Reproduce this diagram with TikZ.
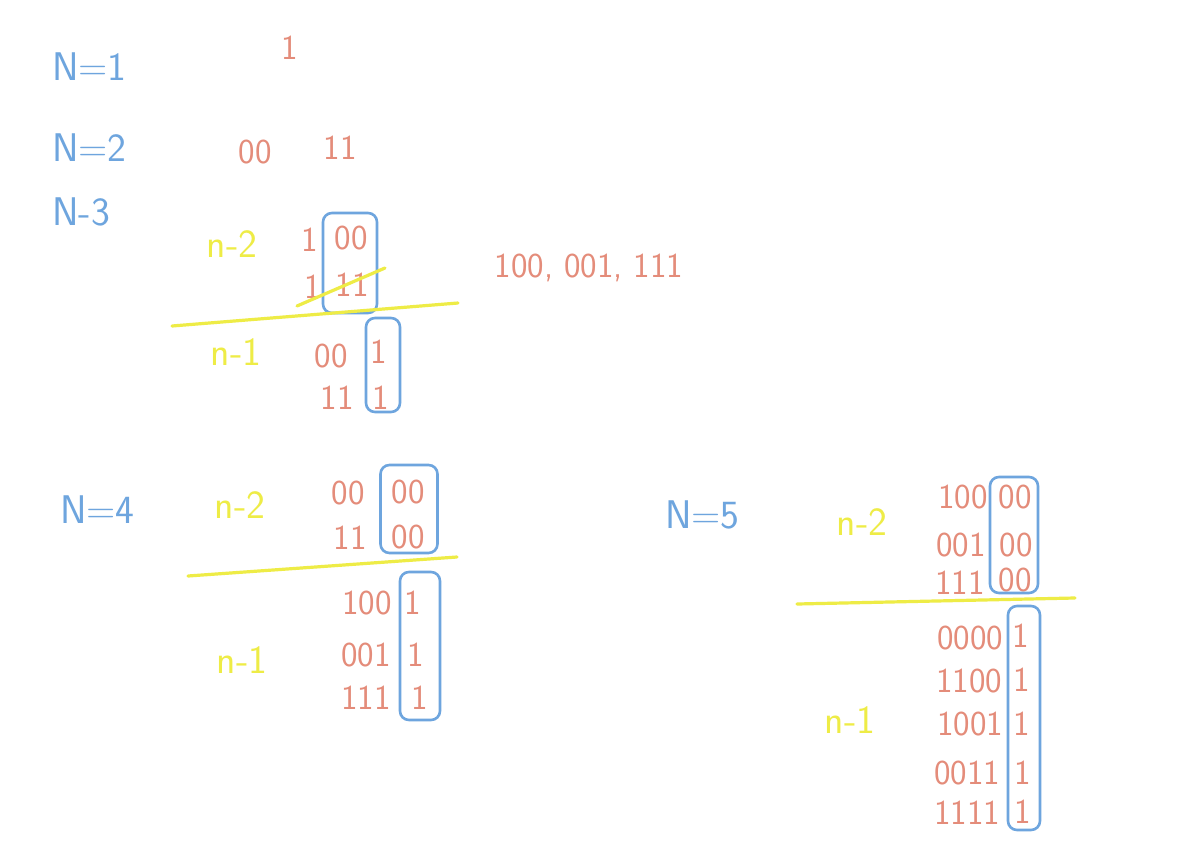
\documentclass[tikz,border=0pt]{standalone}
\usepackage{fontspec}
\definecolor{cblue}{RGB}{110,165,222}
\definecolor{cred}{RGB}{228,140,122}
\definecolor{cyel}{RGB}{238,236,70}
\begin{document}
\begin{tikzpicture}[x=1pt,y=-1pt,
 lab/.style={text=cblue,font=\sffamily\fontsize{40}{40}\selectfont,inner sep=0,anchor=west},
 dig/.style={text=cred,font=\sffamily\fontsize{35}{35}\selectfont,inner sep=0},
 nlab/.style={text=cyel,font=\sffamily\fontsize{40}{40}\selectfont,inner sep=0},
 bbox/.style={draw=cblue,line width=2.6pt,rounded corners=9pt,inner sep=0},
 yline/.style={draw=cyel,line width=3.2pt,line cap=round}]
\useasboundingbox[fill=white] (0,0) rectangle (1200,841);

% N=1, N=2, N-3 labels
\node[lab] (n1) at (52,67) {N=1};
\node[dig] (d1) at (290,48) {1};
\node[lab] (n2) at (52,148) {N=2};
\node[dig] (d2a) at (255,152) {00};
\node[dig] (d2b) at (340,148) {11};
\node[lab] (n3) at (52,212) {N-3};

% N=3 block
\node[nlab] (y3a) at (232,244) {n-2};
\node[dig] (r3a1) at (310,240) {1};
\node[dig] (r3a2) at (351,238) {00};
\node[dig] (r3b1) at (313,287) {1};
\node[dig] (r3b2) at (352,285) {11};
\node[bbox,minimum width=54pt,minimum height=100pt] (b3a) at (350,263) {};
\coordinate (s1) at (297,306);
\coordinate (s2) at (385,268);
\draw[yline] (s1) -- (s2);
\coordinate (l3a) at (172,326);
\coordinate (l3b) at (458,303);
\draw[yline] (l3a) -- (l3b);
\node[nlab] (y3b) at (236,352) {n-1};
\node[dig] (r3c1) at (331,356) {00};
\node[dig] (r3c2) at (379,352) {1};
\node[dig] (r3d1) at (337,398) {11};
\node[dig] (r3d2) at (381,398) {1};
\node[bbox,minimum width=34pt,minimum height=94pt] (b3b) at (383,365) {};
\node[dig] (res3) at (589,268) {100, 001, 111};

% N=4 block
\node[lab] (n4) at (60,510) {N=4};
\node[nlab] (y4a) at (240,505) {n-2};
\node[dig] (r4a1) at (348,493) {00};
\node[dig] (r4a2) at (408,492) {00};
\node[dig] (r4b1) at (350,538) {11};
\node[dig] (r4b2) at (408,537) {00};
\node[bbox,minimum width=57pt,minimum height=88pt] (b4a) at (409,509) {};
\coordinate (l4a) at (188,576);
\coordinate (l4b) at (457,557);
\draw[yline] (l4a) -- (l4b);
\node[dig] (r4c1) at (367,603) {100};
\node[dig] (r4c2) at (413,603) {1};
\node[nlab] (y4b) at (242,660) {n-1};
\node[dig] (r4d1) at (366,655) {001};
\node[dig] (r4d2) at (416,655) {1};
\node[dig] (r4e1) at (366,698) {111};
\node[dig] (r4e2) at (420,698) {1};
\node[bbox,minimum width=40pt,minimum height=148pt] (b4b) at (420,646) {};

% N=5 block
\node[lab] (n5) at (665,515) {N=5};
\node[nlab] (y5a) at (862,522) {n-2};
\node[dig] (r5a1) at (963,497) {100};
\node[dig] (r5a2) at (1015,497) {00};
\node[dig] (r5b1) at (961,545) {001};
\node[dig] (r5b2) at (1016,545) {00};
\node[dig] (r5c1) at (960,583) {111};
\node[dig] (r5c2) at (1015,580) {00};
\node[bbox,minimum width=48pt,minimum height=116pt] (b5a) at (1014,535) {};
\coordinate (l5a) at (797,604);
\coordinate (l5b) at (1075,598);
\draw[yline] (l5a) -- (l5b);
\node[dig] (r5d1) at (970,638) {0000};
\node[dig] (r5d2) at (1021,636) {1};
\node[dig] (r5e1) at (969,681) {1100};
\node[dig] (r5e2) at (1022,680) {1};
\node[nlab] (y5b) at (850,720) {n-1};
\node[dig] (r5f1) at (970,724) {1001};
\node[dig] (r5f2) at (1022,724) {1};
\node[dig] (r5g1) at (967,773) {0011};
\node[dig] (r5g2) at (1023,773) {1};
\node[dig] (r5h1) at (967,813) {1111};
\node[dig] (r5h2) at (1023,812) {1};
\node[bbox,minimum width=32pt,minimum height=224pt] (b5b) at (1024,718) {};
\end{tikzpicture}
\end{document}
